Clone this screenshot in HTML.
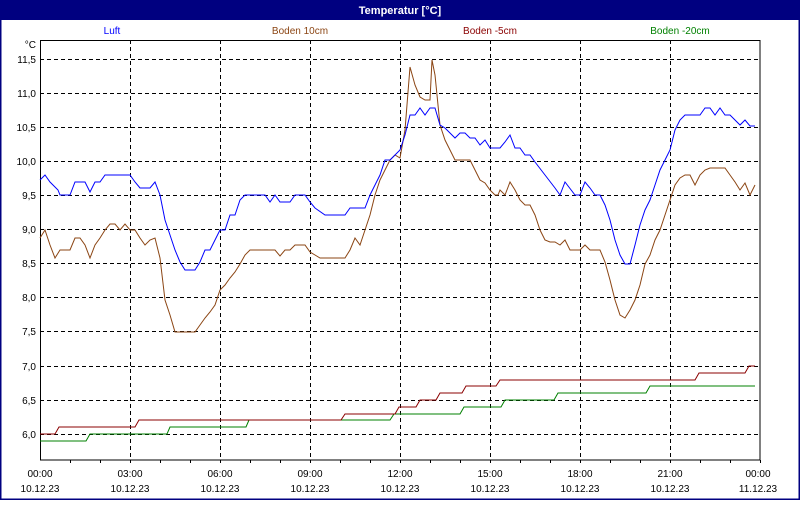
<!DOCTYPE html>
<html><head><meta charset="utf-8"><style>
body{margin:0;width:800px;height:500px;overflow:hidden;background:#fff}
</style></head><body>
<svg width="800" height="500" viewBox="0 0 800 500" xmlns="http://www.w3.org/2000/svg" font-family="Liberation Sans, sans-serif" font-size="10">
<rect x="0" y="0" width="800" height="500" fill="#fff"/>
<rect x="0.5" y="0.5" width="799" height="499" fill="none" stroke="#000080" stroke-width="2"/>
<rect x="0" y="0" width="800" height="20" fill="#000080"/>
<text x="400" y="14" fill="#fff" font-weight="bold" text-anchor="middle" font-size="11">Temperatur [°C]</text>
<text x="112" y="34" fill="#0000ff" text-anchor="middle">Luft</text>
<text x="300" y="34" fill="#8b4513" text-anchor="middle">Boden 10cm</text>
<text x="490" y="34" fill="#8b0000" text-anchor="middle">Boden -5cm</text>
<text x="680" y="34" fill="#008000" text-anchor="middle">Boden -20cm</text>
<g stroke="#000" stroke-dasharray="4,3" stroke-width="1">
<path d="M40 59.5H760M40 93.5H760M40 127.5H760M40 161.5H760M40 195.5H760M40 229.5H760M40 263.5H760M40 297.5H760M40 331.5H760M40 366.5H760M40 400.5H760M40 434.5H760"/>
<path d="M130.5 40V460M220.5 40V460M310.5 40V460M400.5 40V460M490.5 40V460M580.5 40V460M670.5 40V460"/>
</g>
<rect x="40.5" y="40.5" width="719.5" height="419.5" fill="none" stroke="#000"/>
<g stroke="#000"><path d="M70.5 460v3M100.5 460v3M130.5 460v3M160.5 460v3M190.5 460v3M220.5 460v3M250.5 460v3M280.5 460v3M310.5 460v3M340.5 460v3M370.5 460v3M400.5 460v3M430.5 460v3M460.5 460v3M490.5 460v3M520.5 460v3M550.5 460v3M580.5 460v3M610.5 460v3M640.5 460v3M670.5 460v3M700.5 460v3M730.5 460v3M760.5 460v3"/></g>
<g text-anchor="end">
<text x="36" y="48">°C</text>
<text x="36" y="63">11,5</text><text x="36" y="97">11,0</text><text x="36" y="131">10,5</text><text x="36" y="165">10,0</text><text x="36" y="199">9,5</text><text x="36" y="233">9,0</text><text x="36" y="267">8,5</text><text x="36" y="301">8,0</text><text x="36" y="335">7,5</text><text x="36" y="370">7,0</text><text x="36" y="404">6,5</text><text x="36" y="438">6,0</text>
</g>
<g text-anchor="middle">
<text x="40" y="477">00:00</text><text x="130" y="477">03:00</text><text x="220" y="477">06:00</text><text x="310" y="477">09:00</text><text x="400" y="477">12:00</text><text x="490" y="477">15:00</text><text x="580" y="477">18:00</text><text x="670" y="477">21:00</text><text x="758" y="477">00:00</text>
<text x="40" y="492">10.12.23</text><text x="130" y="492">10.12.23</text><text x="220" y="492">10.12.23</text><text x="310" y="492">10.12.23</text><text x="400" y="492">10.12.23</text><text x="490" y="492">10.12.23</text><text x="580" y="492">10.12.23</text><text x="670" y="492">10.12.23</text><text x="758" y="492">11.12.23</text>
</g>
<g fill="none" stroke-width="1">
<polyline stroke="#008000" points="40,441 86,441 90,434 167,434 170,427 246,427 249,420 390,420 394,414 460,414 464,407 501,407 505,400 554,400 558,393 646,393 650,386 755,386"/>
<polyline stroke="#8b0000" points="40,434 55,434 59,427 135,427 139,420 245,420 249,420 341,420 345,414 395,414 399,407 416,407 420,400 436,400 440,393 462,393 466,386 496,386 500,380 695,380 699,373 745,373 749,366 755,366"/>
<polyline stroke="#8b4513" points="40,238 45,230 50,245 55,258 60,250 70,250 75,238 80,238 85,245 90,258 95,245 100,238 105,230 110,224 115,224 120,230 125,224 130,230 135,230 140,238 145,245 150,240 155,238 160,258 165,300 170,315 175,332 195,332 200,325 205,318 210,312 215,305 220,290 225,285 230,278 235,272 240,264 245,255 250,250 275,250 280,256 285,250 290,250 295,245 305,245 310,252 315,255 320,258 345,258 350,250 355,238 360,245 365,230 370,215 375,195 380,180 385,170 390,160 395,155 400,158 405,130 410,67 415,85 420,97 425,100 430,100 432,60 435,75 440,125 445,140 450,150 455,160 470,160 475,170 480,180 485,183 490,190 495,195 498,195 500,190 505,195 510,182 515,190 520,200 525,205 530,205 535,215 540,230 545,240 550,242 555,242 560,245 565,240 570,250 580,250 585,245 590,250 600,250 605,262 610,280 615,300 620,315 625,318 630,310 635,300 640,285 645,264 650,255 655,240 660,230 665,215 670,200 675,185 680,178 685,175 690,175 695,185 700,175 705,170 710,168 725,168 730,175 735,182 740,190 745,183 750,195 755,185"/>
<polyline stroke="#0000ff" points="40,180 45,175 50,182 58,190 60,195 70,195 75,182 85,182 90,192 95,182 100,182 105,175 130,175 135,182 140,188 150,188 155,182 160,195 165,220 170,235 175,250 180,262 185,270 195,270 200,262 205,250 210,250 215,240 220,230 225,230 230,215 235,215 240,200 245,195 265,195 270,202 275,195 280,202 290,202 295,195 305,195 310,202 315,208 325,215 345,215 350,208 365,208 370,195 375,185 380,175 385,160 390,160 395,155 400,150 405,135 410,115 415,115 420,108 425,115 430,108 435,108 440,125 445,128 450,133 455,138 460,133 465,133 470,138 475,138 480,145 485,140 490,148 500,148 505,142 510,135 515,148 520,148 525,155 530,155 535,162 545,175 555,188 560,195 565,182 575,195 580,195 585,182 590,188 595,195 600,195 605,205 610,220 615,240 620,255 625,264 630,264 635,245 640,225 645,210 650,200 655,185 660,170 665,160 670,150 675,130 680,120 685,115 700,115 705,108 710,108 715,115 720,108 725,115 730,115 735,120 740,125 745,120 750,126 755,126"/>
</g>
</svg>
</body></html>
